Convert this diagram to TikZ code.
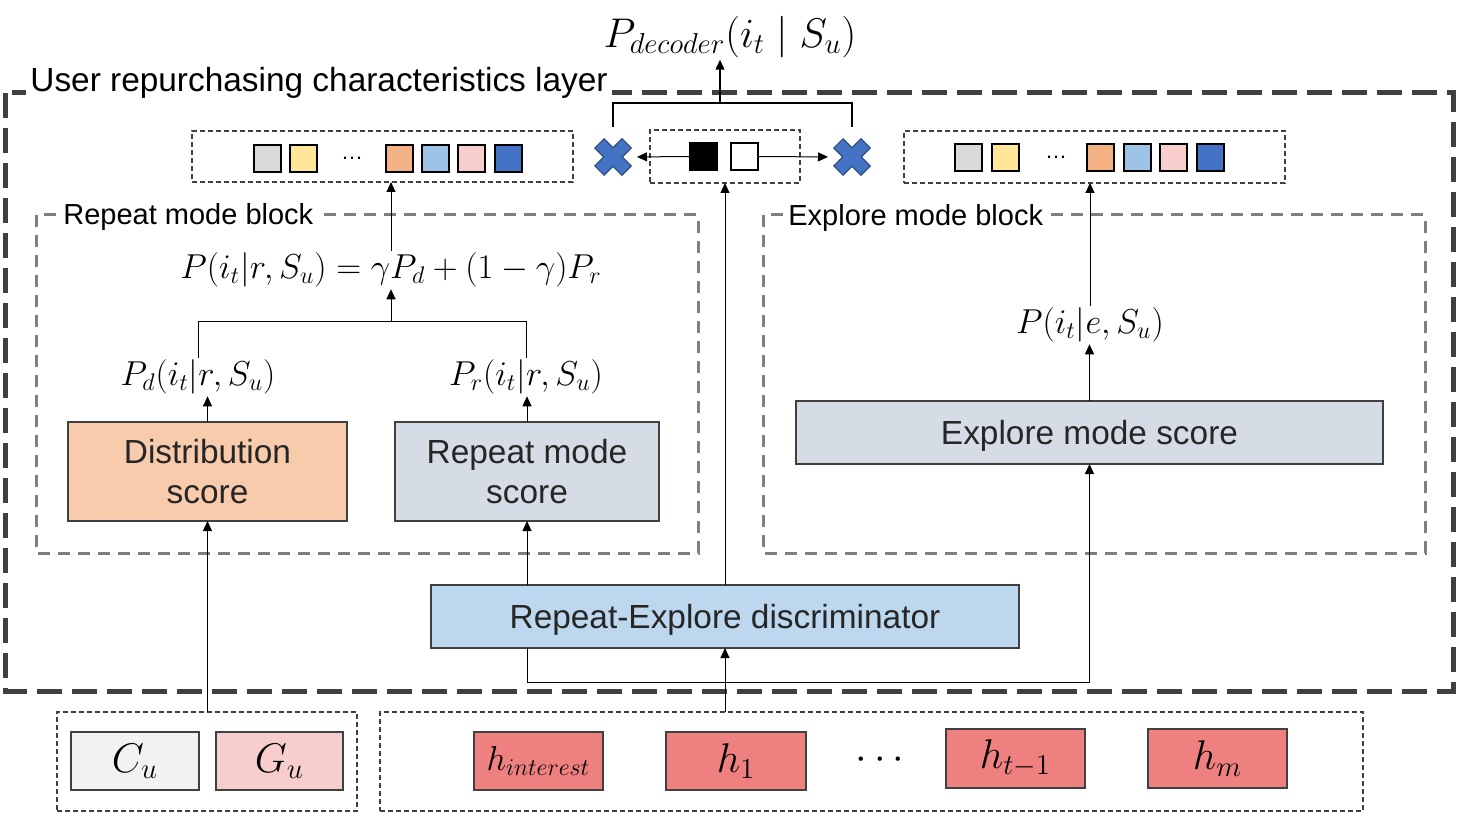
\documentclass[tikz,border=0pt]{standalone}
\usepackage{fontspec}
\setmainfont{Liberation Sans}
\usetikzlibrary{arrows.meta,calc}
\definecolor{outerline}{HTML}{404040}
\definecolor{blockline}{HTML}{7F7F7F}
\definecolor{boxline}{HTML}{404040}
\definecolor{textdark}{HTML}{262626}
\definecolor{cgray}{HTML}{D9D9D9}
\definecolor{cyellow}{HTML}{FFE699}
\definecolor{corange}{HTML}{F4B183}
\definecolor{clblue}{HTML}{9DC3E6}
\definecolor{cpink}{HTML}{F8CECC}
\definecolor{cblue}{HTML}{4472C4}
\definecolor{distfill}{HTML}{F8CBAD}
\definecolor{scorefill}{HTML}{D6DCE5}
\definecolor{discfill}{HTML}{BDD7EE}
\definecolor{cufill}{HTML}{F2F2F2}
\definecolor{hfill}{HTML}{EE8080}
\definecolor{xline}{HTML}{2F4F7F}
\tikzset{
  box/.style={draw=boxline, line width=1pt, inner sep=0pt, outer sep=0pt, align=center, text=textdark, font=\fontsize{16.7}{20}\selectfont},
  sqr/.style={draw=black, line width=1pt, minimum width=13.5pt, minimum height=13.5pt, inner sep=0pt, outer sep=0pt},
  arr/.style={-{Triangle[length=5pt,width=4.5pt]}, line width=0.5pt},
  smalldash/.style={draw=outerline, line width=0.75pt, dash pattern=on 2.5pt off 1.5pt, inner sep=0pt, outer sep=0pt},
  blockdash/.style={draw=blockline, line width=1.5pt, dash pattern=on 6pt off 4pt},
  lbl/.style={fill=white, inner sep=2pt, anchor=west},
  mth/.style={inner sep=1pt, outer sep=0pt, font=\fontsize{17.3}{20}\selectfont},
  hbox/.style={box, fill=hfill, text=black, font=\fontsize{19.5}{22}\selectfont},
  xhold/.style={minimum size=18pt, inner sep=0pt, outer sep=0pt},
  xmark/.style={fill=cblue, draw=xline, line width=0.6pt}
}
\newcommand{\xshape}[1]{%
  \fill[xmark, shift={(#1)}, rotate=45]
   (3.3pt,3.3pt) -- (3.3pt,9.6pt) -- (-3.3pt,9.6pt) -- (-3.3pt,3.3pt) -- (-9.6pt,3.3pt) -- (-9.6pt,-3.3pt)
   -- (-3.3pt,-3.3pt) -- (-3.3pt,-9.6pt) -- (3.3pt,-9.6pt) -- (3.3pt,-3.3pt) -- (9.6pt,-3.3pt) -- (9.6pt,3.3pt) -- cycle;}
\begin{document}
\begin{tikzpicture}[x=0.5pt,y=-0.5pt]
\useasboundingbox (0,0) rectangle (1458,813);
% outer layer
\draw[draw=outerline, line width=2.5pt, dash pattern=on 12.5pt off 5pt] (5,93) rectangle (1453,691);
\node[lbl, font=\fontsize{16.7}{19}\selectfont] (ulabel) at (26,83) {User repurchasing characteristics layer};
% blocks
\draw[blockdash] (36,215) rectangle (698,553);
\node[lbl, font=\fontsize{14.5}{17}\selectfont] (rlabel) at (59,217) {Repeat mode block};
\draw[blockdash] (763,215) rectangle (1425,553);
\node[lbl, font=\fontsize{14.5}{17}\selectfont] (elabel) at (784,218) {Explore mode block};
% top output
\node[mth, font=\fontsize{19.5}{22}\selectfont] (pdec) at (730,37) {$P_{decoder}(i_t \mid S_u)$};
% left output box
\node[smalldash, minimum width=190.5pt, minimum height=25.5pt] (lout) at (382.5,156.5) {};
\node[sqr, fill=cgray] (l1) at (267,158.5) {};
\node[sqr, fill=cyellow] (l2) at (303.5,158.5) {};
\node[font=\fontsize{11}{13}\selectfont] (ldots) at (352,158) {\dots};
\node[sqr, fill=corange] (l3) at (399.5,158.5) {};
\node[sqr, fill=clblue] (l4) at (435.5,158.5) {};
\node[sqr, fill=cpink] (l5) at (471.5,158.5) {};
\node[sqr, fill=cblue] (l6) at (508.5,158.5) {};
% right output box
\node[smalldash, minimum width=190.5pt, minimum height=26pt] (rout) at (1094.5,157) {};
\node[sqr, fill=cgray] (r1) at (968.5,157.5) {};
\node[sqr, fill=cyellow] (r2) at (1005.5,157.5) {};
\node[font=\fontsize{11}{13}\selectfont] (rdots) at (1056,157) {\dots};
\node[sqr, fill=corange] (r3) at (1100.5,157.5) {};
\node[sqr, fill=clblue] (r4) at (1137.5,157.5) {};
\node[sqr, fill=cpink] (r5) at (1173.5,157.5) {};
\node[sqr, fill=cblue] (r6) at (1210.5,157.5) {};
% middle box
\node[smalldash, minimum width=75pt, minimum height=26.5pt] (mid) at (725,156.5) {};
\node[sqr, fill=black] (bsq) at (703.5,156.5) {};
\node[sqr, fill=white] (wsq) at (744.5,156.5) {};
% crosses
\node[xhold] (xl) at (613,157) {};
\node[xhold] (xr) at (852,157) {};
\xshape{xl.center}
\xshape{xr.center}
\draw[arr, shorten >=3pt] (bsq.west) -- (xl.east);
\draw[arr, shorten >=3pt] (wsq.east) -- (xr.west);
\coordinate (topj) at (720,103);
\draw[line width=0.75pt] ([yshift=6pt]xl.north) -- (xl.north |- topj) -- (xr.north |- topj) -- ([yshift=6pt]xr.north);
\draw[arr, line width=0.75pt] (topj) -- (topj |- pdec.south);
% repeat block content
\node[mth] (form) at (391,270) {$P(i_t|r,S_u)=\gamma P_d+(1-\gamma)P_r$};
\node[mth] (pd) at (198,377) {$P_d(i_t|r,S_u)$};
\node[mth] (pr) at (526,377) {$P_r(i_t|r,S_u)$};
\coordinate (brk) at (391,321);
\draw[line width=0.5pt] (pd.north) -- (pd.north |- brk) -- (pr.north |- brk) -- (pr.north);
\draw[arr] (brk) -- (brk |- form.south);
\draw[arr] (form.north) -- (form.north |- lout.south);
\node[box, fill=distfill, minimum width=139.5pt, minimum height=49.5pt] (dist) at (207.5,471.5) {Distribution\\score};
\node[box, fill=scorefill, minimum width=132pt, minimum height=49.5pt] (rep) at (527,471.5) {Repeat mode\\score};
\draw[arr] (dist.north) -- (dist.north |- pd.south);
\draw[arr] (rep.north) -- (rep.north |- pr.south);
% explore block content
\node[box, fill=scorefill, minimum width=293.5pt, minimum height=31.5pt, text depth=0pt] (exp) at (1089.5,432.5) {Explore mode score};
\node[mth] (pe) at (1090,325) {$P(i_t|e,S_u)$};
\draw[arr] (exp.north) -- (exp.north |- pe.south);
\draw[arr] (pe.north) -- (pe.north |- rout.south);
% discriminator
\node[box, fill=discfill, minimum width=294pt, minimum height=31.5pt, text depth=0pt] (disc) at (725,616.5) {Repeat-Explore discriminator};
\draw[arr] (disc.north) -- (disc.north |- mid.south);
\draw[arr] (disc.north -| rep.south) -- (rep.south);
\draw[arr] (disc.south -| rep.south) -- ++(0,34) -| (exp.south);
% inputs
\node[smalldash, minimum width=150pt, minimum height=49.5pt] (cg) at (207,761.5) {};
\node[box, fill=cufill, minimum width=64pt, minimum height=29pt, font=\fontsize{19.5}{22}\selectfont, text=black] (cu) at (135,761) {$C_u$};
\node[box, fill=cpink, minimum width=63.5pt, minimum height=29pt, font=\fontsize{19.5}{22}\selectfont, text=black] (gu) at (279.5,761) {$G_u$};
\node[smalldash, minimum width=491.5pt, minimum height=49.5pt] (hb) at (871.5,761.5) {};
\node[hbox, minimum width=64.5pt, minimum height=29pt, font=\fontsize{17.5}{20}\selectfont] (hi) at (538.5,761) {$h_{interest}$};
\node[hbox, minimum width=70pt, minimum height=29pt] (h1) at (736,761) {$h_1$};
\node[font=\fontsize{19.5}{22}\selectfont] (hdots) at (880,760) {$\cdots$};
\node[hbox, minimum width=69.5pt, minimum height=29.5pt] (ht) at (1015.5,758.5) {$h_{t-1}$};
\node[hbox, minimum width=69.5pt, minimum height=29.5pt] (hm) at (1217.5,758.5) {$h_m$};
\draw[arr] (cg.north -| dist.south) -- (dist.south);
\draw[arr] (hb.north -| disc.south) -- (disc.south);
\end{tikzpicture}
\end{document}
